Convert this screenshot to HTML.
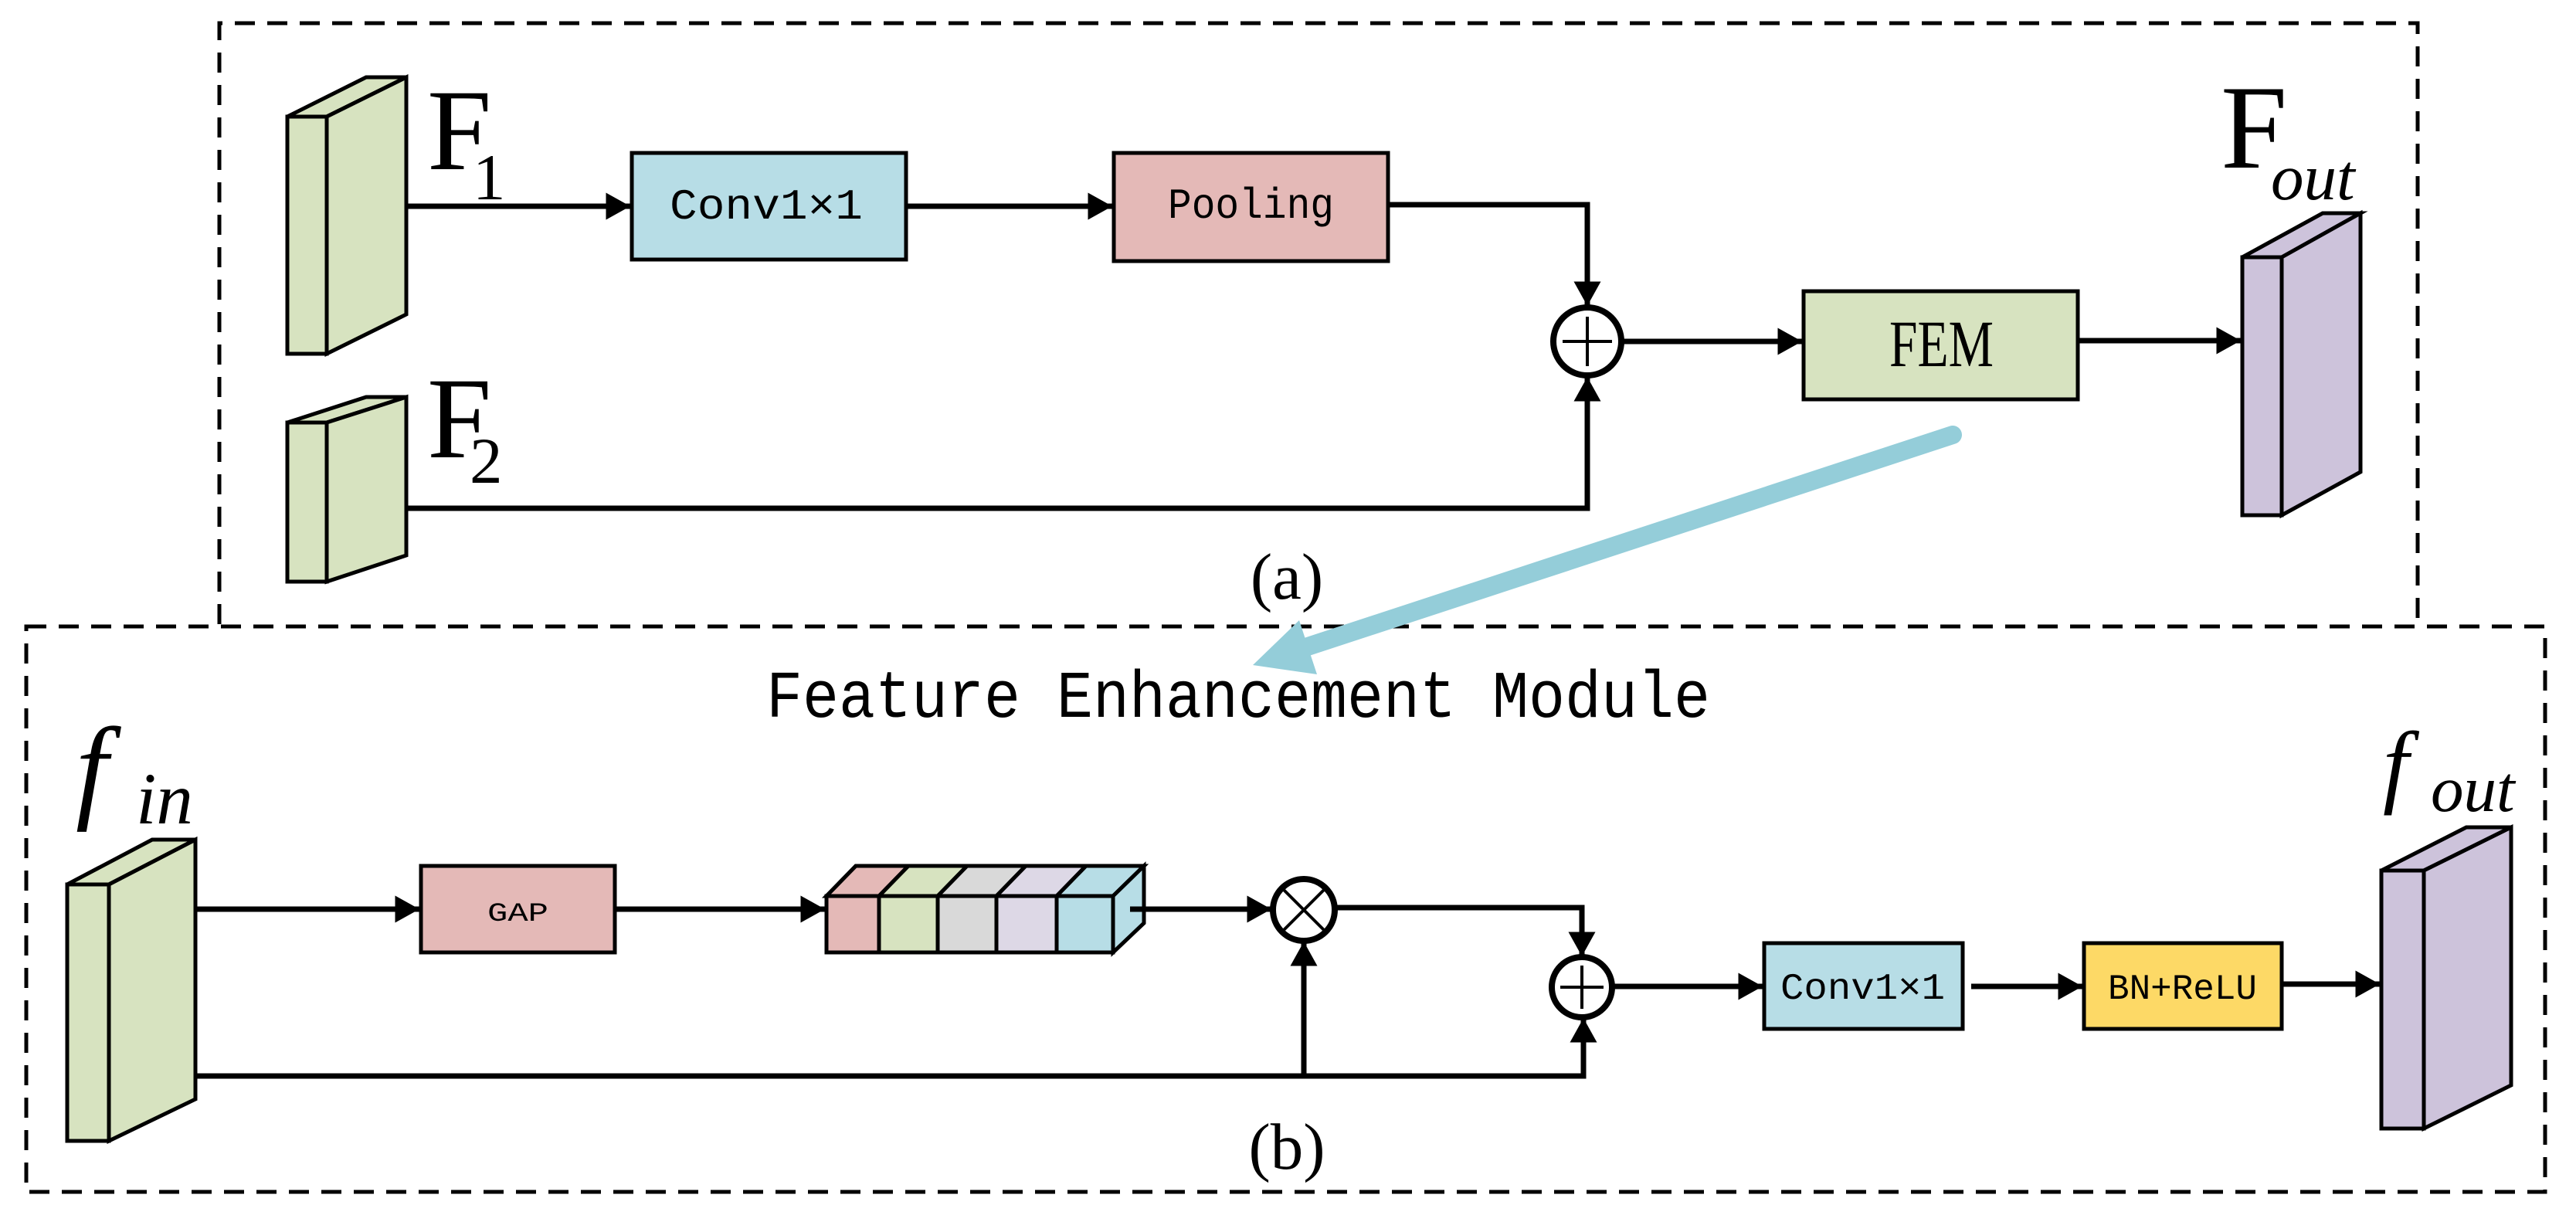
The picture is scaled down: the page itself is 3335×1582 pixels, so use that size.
<!DOCTYPE html>
<html><head><meta charset="utf-8"><style>html,body{margin:0;padding:0;background:#fff}svg{display:block}</style></head>
<body>
<svg width="3335" height="1582" viewBox="0 0 3335 1582" xmlns="http://www.w3.org/2000/svg">
<defs>
<marker id="ar" markerWidth="5" markerHeight="5" refX="4.5" refY="2.5" orient="auto" markerUnits="strokeWidth">
<path d="M0,0 L4.5,2.5 L0,5 z" fill="#000"/></marker>
</defs>
<g fill="none" stroke="#000" stroke-width="5" stroke-dasharray="26 16">
<path d="M284,808 V30 H3130 V808"/>
<rect x="34" y="811" width="3261" height="732"/>
</g>
<g stroke="#000" stroke-width="5" stroke-linejoin="miter">
<path d="M372,151 L474,100 L526,100 L423,151 Z" fill="#d7e3c0"/>
<path d="M423,151 L526,100 L526,407 L423,458 Z" fill="#d7e3c0"/>
<rect x="372" y="151" width="51" height="307" fill="#d7e3c0"/>
<path d="M372,547 L474,514 L526,514 L423,547 Z" fill="#d7e3c0"/>
<path d="M423,547 L526,514 L526,719 L423,753 Z" fill="#d7e3c0"/>
<rect x="372" y="547" width="51" height="206" fill="#d7e3c0"/>
<path d="M2903,333 L3007,276 L3056,276 L2954,333 Z" fill="#cdc3db"/>
<path d="M2954,333 L3056,276 L3056,611 L2954,667 Z" fill="#cdc3db"/>
<rect x="2903" y="333" width="51" height="334" fill="#cdc3db"/>
<path d="M87,1145 L197,1087 L253,1087 L141,1145 Z" fill="#d7e3c0"/>
<path d="M141,1145 L253,1087 L253,1423 L141,1477 Z" fill="#d7e3c0"/>
<rect x="87" y="1145" width="54" height="332" fill="#d7e3c0"/>
<path d="M3083,1127 L3193,1071 L3251,1071 L3138,1127 Z" fill="#cdc3db"/>
<path d="M3138,1127 L3251,1071 L3251,1405 L3138,1461 Z" fill="#cdc3db"/>
<rect x="3083" y="1127" width="55" height="334" fill="#cdc3db"/>
<rect x="818" y="198" width="355" height="138" fill="#b7dde6"/>
<rect x="1442" y="198" width="355" height="140" fill="#e4b9b7"/>
<rect x="2335" y="377" width="355" height="140" fill="#d7e3c0"/>
<rect x="545" y="1121" width="251" height="112" fill="#e4b9b7"/>
<rect x="2284" y="1221" width="257" height="111" fill="#b7dde6"/>
<rect x="2698" y="1221" width="256" height="111" fill="#fdd966"/>
<path d="M1070,1160 L1108,1121 L1481,1121 L1441,1160 Z" fill="#d9d9d9"/>
<path d="M1070,1160 L1108,1121 L1176,1121 L1138,1160 Z" fill="#e4b9b7"/>
<path d="M1138,1160 L1176,1121 L1252,1121 L1214,1160 Z" fill="#d7e3c0"/>
<path d="M1214,1160 L1252,1121 L1328,1121 L1290,1160 Z" fill="#d9d9d9"/>
<path d="M1290,1160 L1328,1121 L1406,1121 L1368,1160 Z" fill="#ddd8e6"/>
<path d="M1368,1160 L1406,1121 L1481,1121 L1441,1160 Z" fill="#b7dde6"/>
<path d="M1441,1160 L1481,1121 L1481,1195 L1441,1233 Z" fill="#b7dde6"/>
<rect x="1070" y="1160" width="68" height="73" fill="#e4b9b7"/>
<rect x="1138" y="1160" width="76" height="73" fill="#d7e3c0"/>
<rect x="1214" y="1160" width="76" height="73" fill="#d9d9d9"/>
<rect x="1290" y="1160" width="78" height="73" fill="#ddd8e6"/>
<rect x="1368" y="1160" width="73" height="73" fill="#b7dde6"/>
</g>
<g fill="#fff" stroke="#000" stroke-width="8">
<circle cx="2055" cy="442" r="44"/>
<circle cx="1688" cy="1178" r="40"/>
<circle cx="2048" cy="1278" r="39"/>
</g>
<g stroke="#000" stroke-width="4">
<path d="M2023,442 H2087 M2055,410 V474"/>
<path d="M1660,1150 L1716,1206 M1716,1150 L1660,1206"/>
<path d="M2020,1278 H2076 M2048,1250 V1306"/>
</g>
<g fill="none" stroke="#000" stroke-width="7" marker-end="url(#ar)">
<path d="M526,267 H816"/>
<path d="M1173,267 H1440"/>
<path d="M1797,265 H2055 V396"/>
<path d="M526,658 H2055 V488"/>
<path d="M2099,442 H2333"/>
<path d="M2690,441 H2901"/>
<path d="M253,1177 H543"/>
<path d="M796,1177 H1068"/>
<path d="M1463,1177 H1646"/>
<path d="M253,1393 H2050 V1318"/>
<path d="M1688,1393 V1219"/>
<path d="M1728,1175 H2048 V1238"/>
<path d="M2087,1277 H2282"/>
<path d="M2552,1277 H2696"/>
<path d="M2954,1274 H3081"/>
</g>
<line x1="2528" y1="563" x2="1690" y2="838" stroke="#94cdd9" stroke-width="24" stroke-linecap="round"/>
<path d="M1622,861 L1682,803 L1705,873 Z" fill="#94cdd9"/>
<g font-family="'Liberation Serif',serif" fill="#000">
<text x="553" y="219" font-size="150">F</text>
<text x="612" y="258" font-size="85">1</text>
<text x="553" y="592" font-size="150">F</text>
<text x="608" y="625" font-size="85">2</text>
<text x="2875" y="217" font-size="155">F</text>
<text x="2940" y="258" font-size="85" font-style="italic">out</text>
<text x="98" y="1045" font-size="150" font-style="italic">f</text>
<text x="176" y="1066" font-size="95" font-style="italic">in</text>
<text x="3085" y="1030" font-size="120" font-style="italic">f</text>
<text x="3147" y="1050" font-size="85" font-style="italic">out</text>
<text x="1666" y="775" font-size="85" text-anchor="middle">(a)</text>
<text x="1666" y="1513" font-size="85" text-anchor="middle">(b)</text>
<text x="2446" y="474" font-size="86" textLength="135" lengthAdjust="spacingAndGlyphs">FEM</text>
</g>
<g font-family="'Liberation Mono',monospace" fill="#000">
<text x="992" y="928" font-size="86" textLength="1222" lengthAdjust="spacingAndGlyphs">Feature Enhancement Module</text>
<text x="867" y="283" font-size="56" textLength="250" lengthAdjust="spacingAndGlyphs">Conv1×1</text>
<text x="1512" y="282" font-size="56" textLength="215" lengthAdjust="spacingAndGlyphs">Pooling</text>
<text x="631" y="1192" font-size="34" textLength="79" lengthAdjust="spacingAndGlyphs">GAP</text>
<text x="2305" y="1293" font-size="48" textLength="213" lengthAdjust="spacingAndGlyphs">Conv1×1</text>
<text x="2729" y="1293" font-size="46" textLength="193" lengthAdjust="spacingAndGlyphs">BN+ReLU</text>
</g>
</svg>
</body></html>
